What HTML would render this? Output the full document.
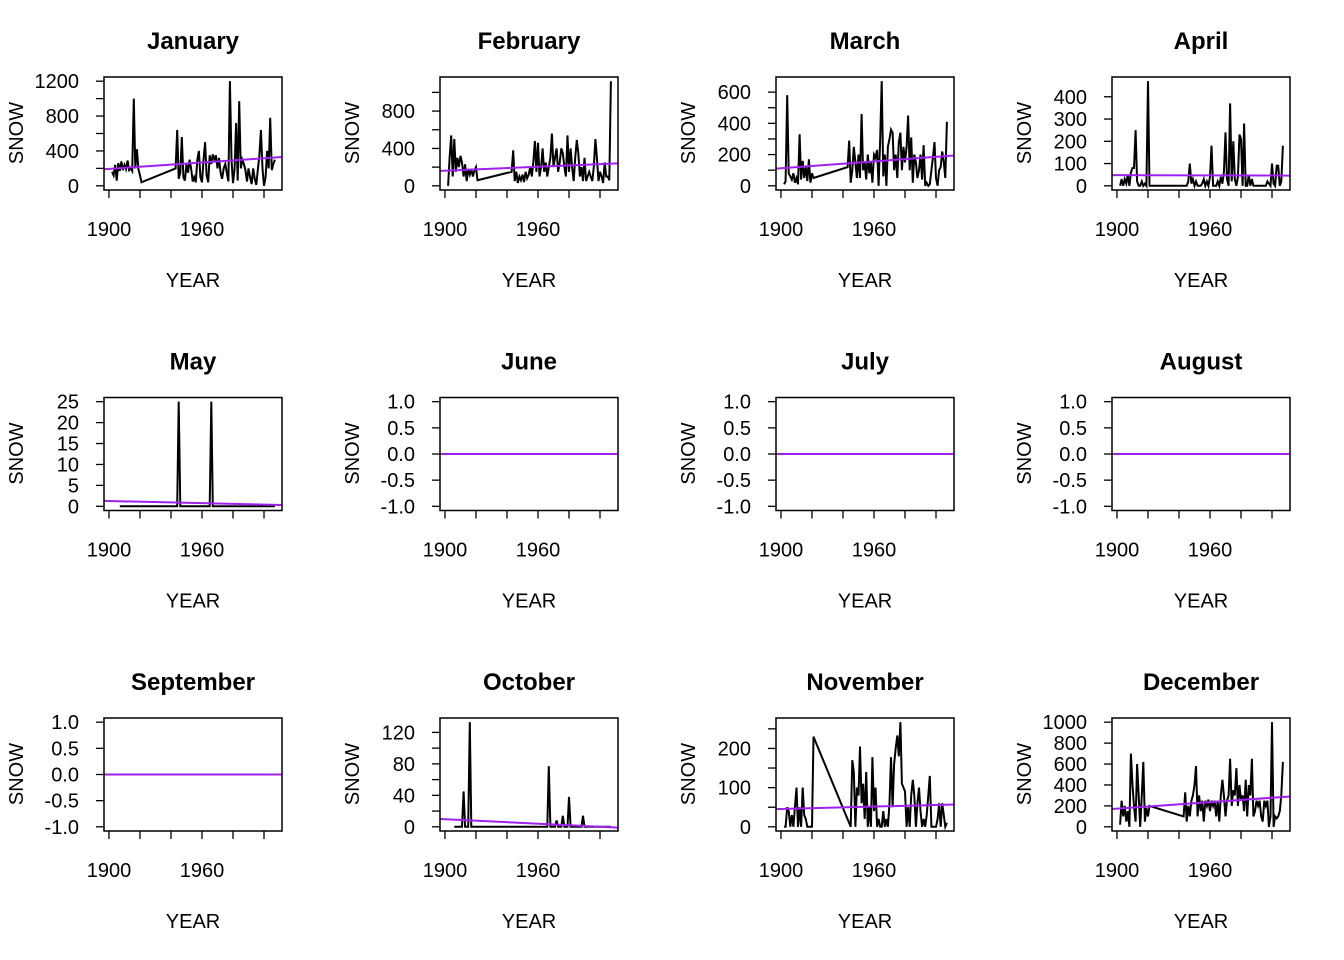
<!DOCTYPE html>
<html><head><meta charset="utf-8">
<style>
html,body{margin:0;padding:0;background:#fff;}
svg{display:block;font-family:"Liberation Sans",Arial,sans-serif;}
</style></head>
<body>
<svg id="chart" width="1344" height="960" viewBox="0 0 1344 960" xmlns="http://www.w3.org/2000/svg"></svg>
<script>
const months = ["January","February","March","April","May","June","July","August","September","October","November","December"];
const years1 = [1902,1903,1904,1905,1906,1907,1908,1909,1910,1911,1912,1913,1914,1915,1916,1917,1918,1919,1920,1921];
const years2 = [];
for (let y = 1943; y <= 2007; y++) years2.push(y);

const janA = [160,120,240,60,260,170,280,180,240,190,290,180,200,170,1000,200,420,190,120,40];
const janB = [200,640,80,150,560,100,60,250,150,300,200,50,100,40,300,400,100,40,300,500,120,40,350,250,360,300,350,200,320,150,80,200,250,150,50,1200,300,30,200,720,60,970,200,300,250,180,50,200,100,20,200,80,10,180,350,640,200,0,100,400,200,780,180,250,300];
const febA = [0,300,540,100,500,150,300,200,320,250,100,230,50,180,120,180,100,160,200,60];
const febB = [150,380,50,150,30,100,60,120,40,150,80,120,200,100,250,480,150,460,100,200,400,150,250,100,200,300,560,200,300,400,150,250,400,350,200,100,540,150,400,200,50,300,490,350,100,200,50,300,50,100,150,100,50,200,500,300,50,150,100,30,250,100,100,60,1120];
const marA = [10,30,580,80,60,40,80,20,50,10,330,40,160,50,120,30,170,20,80,50];
const marB = [120,290,20,100,250,150,50,200,50,460,100,150,40,200,80,150,20,200,180,230,0,300,670,60,200,0,250,300,360,340,100,200,50,280,340,100,250,150,250,450,100,310,20,200,150,50,100,200,40,260,0,20,0,10,100,180,280,50,0,100,120,220,150,50,410];
const aprA = [0,30,0,30,10,50,0,60,80,80,250,20,0,0,20,0,10,0,470,0];
const aprB = [0,0,0,20,100,10,30,0,20,0,0,0,10,30,0,20,0,40,180,0,0,0,20,0,40,10,60,240,30,0,370,20,200,30,0,40,230,210,0,280,0,0,50,0,30,0,0,0,0,0,0,0,0,0,20,10,0,100,10,0,90,90,0,20,180];
const mayA = [null,null,null,null,null,0,0,0,0,0,0,0,0,0,0,0,0,0,0,0];
const mayB = [0,0,25,0,0,0,0,0,0,0,0,0,0,0,0,0,0,0,0,0,0,0,0,25,0,0,0,0,0,0,0,0,0,0,0,0,0,0,0,0,0,0,0,0,0,0,0,0,0,0,0,0,0,0,0,0,0,0,0,0,0,0,0,0,0];
const zeroA = [0,0,0,0,0,0,0,0,0,0,0,0,0,0,0,0,0,0,0,0];
const zeroB = [0,0,0,0,0,0,0,0,0,0,0,0,0,0,0,0,0,0,0,0,0,0,0,0,0,0,0,0,0,0,0,0,0,0,0,0,0,0,0,0,0,0,0,0,0,0,0,0,0,0,0,0,0,0,0,0,0,0,0,0,0,0,0,0,0];
const octA = [null,null,null,null,0,0,0,0,0,0,45,0,0,0,133,0,0,0,0,0];
const octB = [0,0,0,0,0,0,0,0,0,0,0,0,0,0,0,0,0,0,0,0,0,0,0,0,77,0,0,0,0,8,0,0,0,14,0,0,0,38,0,0,0,0,0,0,0,0,14,0,0,0,0,0,0,0,0,0,0,0,0,0,0,0,0,0,0];
const novA = [0,0,50,40,0,30,0,50,100,0,50,0,100,30,20,0,0,0,0,230];
const novB = [null,null,0,170,140,0,100,80,205,60,110,20,140,0,50,0,178,40,100,0,20,0,0,40,0,20,0,60,178,50,160,200,233,180,267,110,100,90,0,50,0,80,120,80,0,60,100,40,0,20,0,30,80,130,0,0,0,0,20,60,0,60,30,0,10];
const decA = [20,250,100,200,50,150,0,700,400,200,50,600,300,0,300,620,50,180,100,200];
const decB = [100,330,50,200,100,250,300,400,580,100,300,150,250,50,250,200,260,150,250,200,250,100,250,50,300,450,300,100,250,300,650,200,350,300,560,200,400,250,300,150,450,100,400,300,650,100,150,250,200,250,100,50,250,200,250,0,100,1000,0,100,80,100,150,300,620];

const seriesA = [janA,febA,marA,aprA,mayA,zeroA,zeroA,zeroA,zeroA,octA,novA,decA];
const seriesB = [janB,febB,marB,aprB,mayB,zeroB,zeroB,zeroB,zeroB,octB,novB,decB];
const trendStart = [190,160,110,48,1.3,0,0,0,0,10,45,170];
const trendEnd = [330,240,194,46,0.3,0,0,0,0,-1,57,290];
const tickStep = [200,200,100,100,5,0.5,0.5,0.5,0.5,20,50,200];
const labelEvery = [2,2,2,1,1,1,1,1,1,2,2,1];
const xTicks = [1900,1920,1940,1960,1980,2000];
const xLabels = ["1900","","","1960","",""];

const NS = "http://www.w3.org/2000/svg";
const svg = document.getElementById("chart");
function mk(tag, attrs, parent){const e=document.createElementNS(NS,tag);for(const k in attrs)e.setAttribute(k,attrs[k]);(parent||svg).appendChild(e);return e;}

const xMin = 1896.8, xMax = 2011.6;
months.forEach((m, i) => {
  const col = i % 4, row = Math.floor(i / 4);
  const ox = col * 336, oy = row * 320.5;
  const L = ox + 104, R = ox + 282, T = oy + 77, B = oy + 190;
  const g = mk("g", {});
  
  
  const pts = [];
  years1.forEach((y, k) => { if (seriesA[i][k] !== null) pts.push([y, seriesA[i][k]]); });
  years2.forEach((y, k) => { if (seriesB[i][k] !== null) pts.push([y, seriesB[i][k]]); });
  let dmin = Math.min(...pts.map(p => p[1])), dmax = Math.max(...pts.map(p => p[1]));
  if (dmax === dmin) { dmin -= 1; dmax += 1; }
  const pad = (dmax - dmin) * 0.04;
  const yLo = dmin - pad, yHi = dmax + pad;
  const sx = v => L + (v - xMin) / (xMax - xMin) * (R - L);
  const sy = v => B - (v - yLo) / (yHi - yLo) * (B - T);

  const line = mk("polyline", {points: pts.map(p => sx(p[0]).toFixed(1) + "," + sy(p[1]).toFixed(1)).join(" "), fill: "none", stroke: "#000", "stroke-width": 2}, g);
  
  
  const tr = mk("line", {x1: L, x2: R, y1: sy(trendStart[i]), y2: sy(trendEnd[i]), stroke: "#a020f0", "stroke-width": 2}, g);
  
  
  const box = mk("rect", {x: L, y: T, width: R - L, height: B - T, fill: "none", stroke: "#000", "stroke-width": 1.5}, g);
  
  

  xTicks.forEach((t, k) => {
    const x = sx(t);
    const tk = mk("line", {x1: x, x2: x, y1: B, y2: B + 8, stroke: "#000", "stroke-width": 1.3}, g);
    
    
    if (xLabels[k]) {
      const tx = mk("text", {x: x, y: oy + 236, "text-anchor": "middle", "font-size": 20}, g);
      tx.textContent = xLabels[k];
      
      
    }
  });
  const st = tickStep[i];
  let first = Math.ceil(yLo / st - 1e-9) * st;
  let n = 0;
  for (let v = first; v <= yHi + 1e-9; v += st, n++) {
    const y = sy(v);
    const tk = mk("line", {x1: L - 8, x2: L, y1: y, y2: y, stroke: "#000", "stroke-width": 1.3}, g);
    
    
    if (n % labelEvery[i] === 0) {
      const tx = mk("text", {x: ox + 79, y: y + 7, "text-anchor": "end", "font-size": 20}, g);
      tx.textContent = String(Math.round(v * 10) / 10).replace(/^(-?\d+)$/, m => (st < 1 ? Number(m).toFixed(1) : m));
      
      
    }
  }
  const title = mk("text", {x: ox + 193, y: oy + 49, "text-anchor": "middle", "font-size": 24, "font-weight": "bold"}, g);
  title.textContent = m;
  
  
  const xt = mk("text", {x: ox + 193, y: oy + 287, "text-anchor": "middle", "font-size": 20}, g);
  xt.textContent = "YEAR";
  
  
  const yt = mk("text", {x: 0, y: 0, "text-anchor": "middle", "font-size": 20, transform: "translate(" + (ox + 23) + "," + (oy + 133) + ") rotate(-90)"}, g);
  yt.textContent = "SNOW";
  
  
});
</script>
</body></html>
